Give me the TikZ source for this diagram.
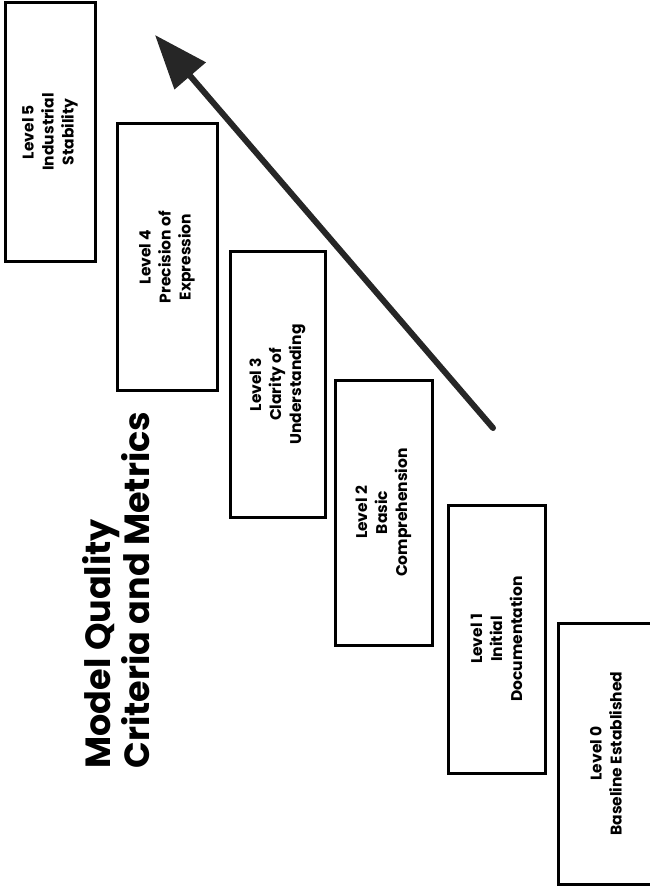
\documentclass[tikz,border=0pt]{standalone}
\usepackage{fontspec}
\setmainfont{Poppins}
\usetikzlibrary{arrows.meta}
\begin{document}
\begin{tikzpicture}[x=1pt,y=-1pt,
    levelbox/.style={draw,line width=3pt,rotate=90,align=center,inner sep=0pt,
      font=\fontsize{15.5}{20}\selectfont\bfseries}]
  \useasboundingbox (0,0) rectangle (649,890);
  \node[rotate=90,anchor=west,align=left,font=\fontsize{35}{28}\selectfont\bfseries] (title) at (116,772) {Model Quality\\Criteria and Metrics};

  \node[levelbox,minimum width=259pt,minimum height=90pt]  (level5) at (50,132)    {Level 5\\Industrial\\Stability};
  \node[levelbox,minimum width=266pt,minimum height=100pt] (level4) at (167,257)   {Level 4\\Precision of\\Expression};
  \node[levelbox,minimum width=265pt,minimum height=95pt]  (level3) at (277.5,384.5) {Level 3\\Clarity of\\Understanding};
  \node[levelbox,minimum width=265pt,minimum height=97pt]  (level2) at (383.5,512.5) {Level 2\\Basic\\Comprehension};
  \node[levelbox,minimum width=268pt,minimum height=97pt]  (level1) at (496.5,639)   {Level 1\\Initial\\Documentation};
  \node[levelbox,minimum width=261pt,minimum height=96pt]  (level0) at (606,753.5)   {Level 0\\Baseline Established};

  \coordinate (arrowstart) at (493,428);
  \coordinate (arrowtip)   at (155,35);
  \draw[-{Triangle[length=54pt,width=40pt]},line width=6pt,line cap=round,color=black!85] (arrowstart) -- (arrowtip);
\end{tikzpicture}
\end{document}
